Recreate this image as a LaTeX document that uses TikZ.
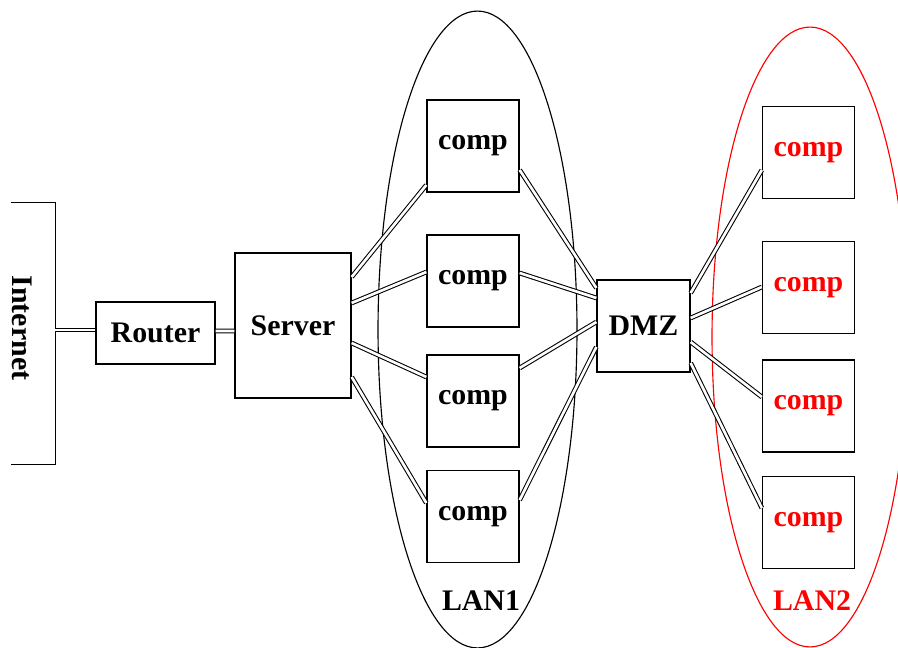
\documentclass[tikz,border=0pt]{standalone}
\usepackage{fontspec}
\setmainfont{Liberation Serif}
\usetikzlibrary{calc,positioning,shapes.geometric}

\begin{document}
\begin{tikzpicture}[
x=0.02cm, y=-0.02cm,
every node/.style={
        font=\bfseries\fontsize{17}{20}\selectfont
    },
    machine/.style = {rectangle, draw, line width=0.75pt, inner sep=0pt},
    comp/.style = {machine, minimum width=1.84cm, minimum height=1.84cm, text=#1},
    comp/.default = black,
    lan/.style = {ellipse, draw=#1, line width=0.65pt, inner sep=0pt,
                  minimum width=3.98cm, minimum height=12.74cm},
    link/.style = {draw, double, double distance=1.5pt, line width=0.6pt}
    ]
\useasboundingbox (0,0) rectangle (898,648);
% groups
\node (lan1) [lan=black] at (477.5,329.5) {};
\node (lan2) [lan=red, minimum width=3.92cm, minimum height=12.4cm] at (810,337) {};
\node (lan1name) at (481,601) {LAN1};
\node (lan2name) [text=red] at (812,601) {LAN2};

% outside
\node (inet) [minimum width=0.88cm, minimum height=5.22cm, inner sep=0pt] at (33,333.5) {};
\draw[line width=0.75pt] (inet.north west) -- (inet.north east) -- (inet.south east) -- (inet.south west);
\node (inetname) [rotate=-90] at (22,328) {Internet};
\node (router) [machine, minimum width=2.38cm, minimum height=1.24cm] at (155.5,333) {Router};
\node (srv) [machine, minimum width=2.32cm, minimum height=2.9cm] at (293,325.5) {Server};

% LAN1
\node (a1) [comp] at (473,146) {comp};
\node (a2) [comp] at (473,281) {comp};
\node (a3) [comp] at (473,401) {comp};
\node (a4) [comp] at (473,516.5) {comp};

\node (dmz) [machine, minimum width=1.86cm, minimum height=1.84cm] at (643.5,326) {DMZ};

% LAN2
\node (b1) [comp=red] at (808.5,152.5) {comp};
\node (b2) [comp=red] at (808.5,287.5) {comp};
\node (b3) [comp=red] at (808.5,406) {comp};
\node (b4) [comp=red] at (808.5,522.5) {comp};

\path[every edge/.style={link}]
    ($(inet.east)+(0,-3.5)$)   edge ($(router.west)+(0,-3)$)
    ($(router.east)+(0,-2)$)   edge ($(srv.west)+(0,5.5)$)
    ($(srv.east)+(0,-48.5)$)   edge ($(a1.west)+(0,39)$)
    ($(srv.east)+(0,-22.5)$)   edge ($(a2.west)+(0,-9)$)
    ($(srv.east)+(0,17.5)$)    edge ($(a3.west)+(0,-24)$)
    ($(srv.east)+(0,51.5)$)    edge ($(a4.west)+(0,-13.5)$)
    ($(a1.east)+(0,24)$)       edge ($(dmz.west)+(0,-38)$)
    ($(a2.east)+(0,-8)$)       edge ($(dmz.west)+(0,-28)$)
    ($(a3.east)+(0,-33)$)      edge ($(dmz.west)+(0,-4)$)
    ($(a4.east)+(0,-16.5)$)    edge ($(dmz.west)+(0,21)$)
    ($(dmz.east)+(0,-33)$)     edge ($(b1.west)+(0,17.5)$)
    ($(dmz.east)+(0,-8)$)      edge ($(b2.west)+(0,-0.5)$)
    ($(dmz.east)+(0,16)$)      edge ($(b3.west)+(0,-9)$)
    ($(dmz.east)+(0,37)$)      edge ($(b4.west)+(0,-14.5)$);
\end{tikzpicture}
\end{document}
